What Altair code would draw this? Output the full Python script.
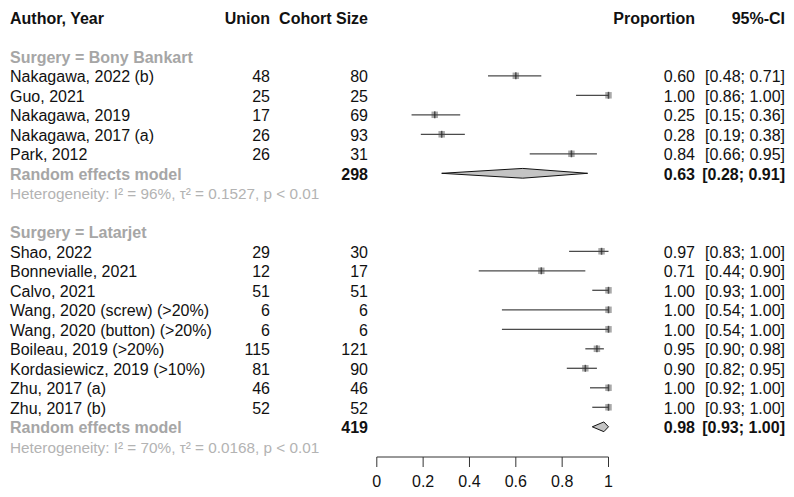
import altair as alt
import pandas as pd

# ---------------- data ----------------
g1_label = "Surgery = Bony Bankart"
g1_authors = ["Nakagawa, 2022 (b)", "Guo, 2021", "Nakagawa, 2019", "Nakagawa, 2017 (a)", "Park, 2012"]
g1_union = [48, 25, 17, 26, 26]
g1_cohort = [80, 25, 69, 93, 31]
g1_prop = [0.60, 1.00, 0.25, 0.28, 0.84]
g1_lower = [0.48, 0.86, 0.15, 0.19, 0.66]
g1_upper = [0.71, 1.00, 0.36, 0.38, 0.95]
g1_pooled = (0.63, 0.28, 0.91)
g1_total = 298
g1_het = "Heterogeneity: I² = 96%, τ² = 0.1527, p < 0.01"

g2_label = "Surgery = Latarjet"
g2_authors = ["Shao, 2022", "Bonnevialle, 2021", "Calvo, 2021", "Wang, 2020 (screw) (>20%)",
              "Wang, 2020 (button) (>20%)", "Boileau, 2019 (>20%)", "Kordasiewicz, 2019 (>10%)",
              "Zhu, 2017 (a)", "Zhu, 2017 (b)"]
g2_union = [29, 12, 51, 6, 6, 115, 81, 46, 52]
g2_cohort = [30, 17, 51, 6, 6, 121, 90, 46, 52]
g2_prop = [0.97, 0.71, 1.00, 1.00, 1.00, 0.95, 0.90, 1.00, 1.00]
g2_lower = [0.83, 0.44, 0.93, 0.54, 0.54, 0.90, 0.82, 0.92, 0.93]
g2_upper = [1.00, 0.90, 1.00, 1.00, 1.00, 0.98, 0.95, 1.00, 1.00]
g2_pooled = (0.98, 0.93, 1.00)
g2_total = 419
g2_het = "Heterogeneity: I² = 70%, τ² = 0.0168, p < 0.01"

tick_values = [0, 0.2, 0.4, 0.6, 0.8, 1]
tick_labels = ["0", "0.2", "0.4", "0.6", "0.8", "1"]
headers = ["Author, Year", "Union", "Cohort Size", "Proportion", "95%-CI"]

# ---------------- tables ----------------
studies, groups, pooled, hets, diamonds = [], [], [], [], []
row = 0
for gi, (lab, au, un, co, pr, lo, up, pl, tot, het) in enumerate([
        (g1_label, g1_authors, g1_union, g1_cohort, g1_prop, g1_lower, g1_upper, g1_pooled, g1_total, g1_het),
        (g2_label, g2_authors, g2_union, g2_cohort, g2_prop, g2_lower, g2_upper, g2_pooled, g2_total, g2_het)]):
    groups.append({"row": row, "label": lab})
    row += 1
    for a, u, c, p, l, h in zip(au, un, co, pr, lo, up):
        studies.append({"row": row, "author": a, "union": str(u), "cohort": str(c),
                        "prop": p, "lower": l, "upper": h,
                        "ptxt": f"{p:.2f}", "citxt": f"[{l:.2f}; {h:.2f}]"})
        row += 1
    p, l, h = pl
    pooled.append({"row": row, "label": "Random effects model", "cohort": str(tot),
                   "ptxt": f"{p:.2f}", "citxt": f"[{l:.2f}; {h:.2f}]"})
    hh = 0.25
    diamonds += [{"g": gi, "x": l, "y": row, "y2": row},
                 {"g": gi, "x": p, "y": row - hh, "y2": row + hh},
                 {"g": gi, "x": h, "y": row, "y2": row}]
    row += 1
    hets.append({"row": row, "label": het})
    row += 2

studies = pd.DataFrame(studies)
groups = pd.DataFrame(groups)
pooled = pd.DataFrame(pooled)
hets = pd.DataFrame(hets)
diamonds = pd.DataFrame(diamonds)
hdr = pd.DataFrame({"row": [-2], "a": [headers[0]], "b": [headers[1]], "c": [headers[2]],
                    "d": [headers[3]], "e": [headers[4]]})
ticks = pd.DataFrame({"v": tick_values, "lab": tick_labels})

# ---------------- scales ----------------
XS = alt.Scale(domain=[0, 1], range=[368.8, 600.5], nice=False, zero=False)
YS = alt.Scale(domain=[0, 20], range=[48.3, 438.3], nice=False, zero=False)
FONT = "Liberation Sans"
FS = 16
BLACK = "#111111"
GRAY = "#a6a6a6"
DY = 1.5


def txt(df, field, xpx, align="left", bold=False, color=BLACK, size=FS):
    return alt.Chart(df).mark_text(
        align=align, baseline="middle", font=FONT, fontSize=size, dy=DY,
        fontWeight="bold" if bold else "normal", color=color
    ).encode(x=alt.value(xpx), y=alt.Y("row:Q", scale=YS, axis=None), text=f"{field}:N")


PX = 687   # right edge of proportion column
CX = 777   # right edge of CI column

layers = [
    txt(hdr, "a", 2, bold=True),
    txt(hdr, "b", 262, "right", bold=True),
    txt(hdr, "c", 360, "right", bold=True),
    txt(hdr, "d", PX, "right", bold=True),
    txt(hdr, "e", CX, "right", bold=True),
    txt(groups, "label", 2, bold=True, color=GRAY),
    txt(studies, "author", 2),
    txt(studies, "union", 262, "right"),
    txt(studies, "cohort", 360, "right"),
    txt(studies, "ptxt", PX, "right"),
    txt(studies, "citxt", CX, "right"),
    txt(pooled, "label", 2, bold=True, color=GRAY),
    txt(pooled, "cohort", 360, "right", bold=True),
    txt(pooled, "ptxt", PX, "right", bold=True),
    txt(pooled, "citxt", CX, "right", bold=True),
    txt(hets, "label", 2, color="#b3b3b3", size=15.3),
]

base = alt.Chart(studies)
squares = base.mark_square(size=42, color="#a9a9a9", opacity=1).encode(
    x=alt.X("prop:Q", scale=XS, axis=None), y=alt.Y("row:Q", scale=YS, axis=None))
ci = base.mark_rule(color="#4a4a4a", strokeWidth=1.3).encode(
    x=alt.X("lower:Q", scale=XS, axis=None), x2="upper:Q", y=alt.Y("row:Q", scale=YS, axis=None))
est = base.mark_tick(orient="vertical", size=7, thickness=1.5, color="#222222").encode(
    x=alt.X("prop:Q", scale=XS, axis=None), y=alt.Y("row:Q", scale=YS, axis=None))
dia = alt.Chart(diamonds).mark_area(orient="vertical", color="#c4c4c4", stroke="#111111",
                                    strokeWidth=1, opacity=1).encode(
    x=alt.X("x:Q", scale=XS, axis=None), y=alt.Y("y:Q", scale=YS, axis=None), y2="y2:Q",
    detail="g:N")

tb = alt.Chart(ticks)
axis_line = tb.mark_rule(color="#333333", strokeWidth=1).encode(
    x=alt.X("min(v):Q", scale=XS, axis=None), x2="max(v):Q", y=alt.value(449))
axis_ticks = tb.mark_rule(color="#333333", strokeWidth=1).encode(
    x=alt.X("v:Q", scale=XS, axis=None), y=alt.value(449), y2=alt.value(459))
axis_labels = tb.mark_text(font=FONT, fontSize=FS, baseline="middle", color=BLACK).encode(
    x=alt.X("v:Q", scale=XS, axis=None), y=alt.value(474), text="lab:N")

chart = alt.layer(*layers, squares, ci, est, dia, axis_line, axis_ticks, axis_labels).properties(
    width=778, height=481, padding=0, autosize=alt.AutoSizeParams(type="none"),
    background="white"
).configure_view(stroke=None)

chart.save("out.html", embed_options={"renderer": "svg", "actions": False})
